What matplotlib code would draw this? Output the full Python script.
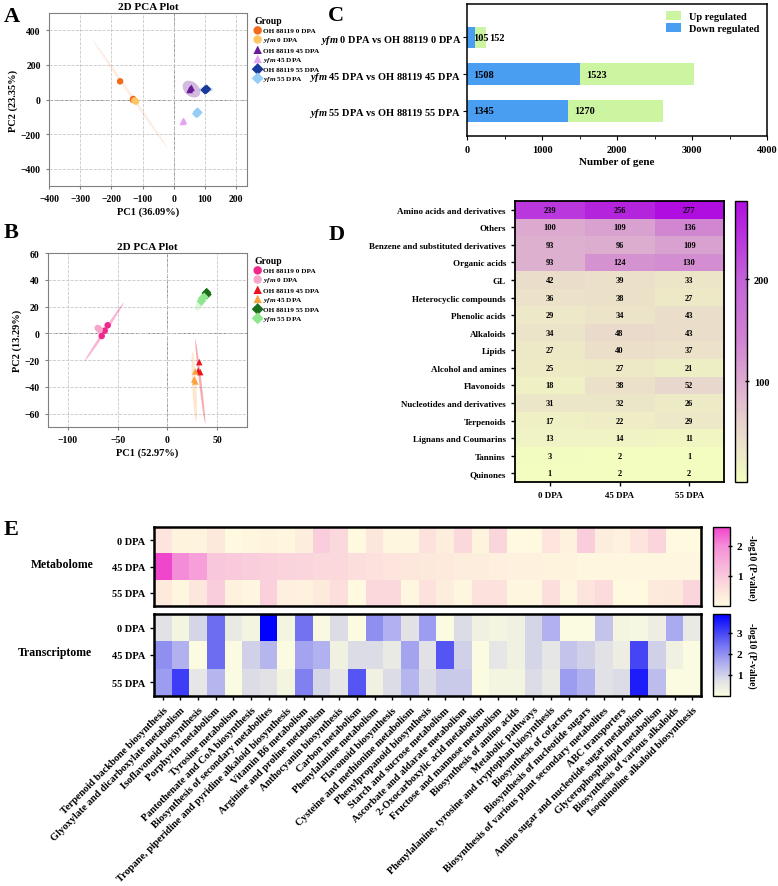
import numpy as np
import matplotlib.pyplot as plt
from matplotlib.patches import Ellipse, Patch
from matplotlib.colors import LinearSegmentedColormap, Normalize

plt.rcParams['font.family'] = ['Liberation Serif', 'DejaVu Serif']
plt.rcParams['font.weight'] = 'bold'
plt.rcParams['axes.labelweight'] = 'bold'
plt.rcParams['axes.titleweight'] = 'bold'
plt.rcParams['mathtext.fontset'] = 'custom'
plt.rcParams['mathtext.it'] = 'Liberation Serif:italic:bold'
plt.rcParams['mathtext.rm'] = 'Liberation Serif:bold'
plt.rcParams['mathtext.bf'] = 'Liberation Serif:bold'

# ---------------- data ----------------
groups = ['OH 88119 0 DPA', r'$\mathit{yfm}$ 0 DPA', 'OH 88119 45 DPA',
          r'$\mathit{yfm}$ 45 DPA', 'OH 88119 55 DPA', r'$\mathit{yfm}$ 55 DPA']
markers = ['o', 'o', '^', '^', 'D', 'D']

# panel A  (PC1 36.09 %, PC2 23.35 %)
a_x = [[-172, -130, -131], [-121, -126, -124], [53, 51, 57],
       [32, 29, 31], [103, 106, 100], [76, 73, 78]]
a_y = [[105, 3, -2], [-12, -6, -9], [62, 55, 68],
       [-122, -130, -127], [57, 60, 55], [-72, -82, -76]]
a_ell = [(-140, 32, 670, 10, -69), (-124, -9, 22, 30, 0), (57, 60, 52, 100, 15),
         (31, -126, 18, 28, 30), (104, 57, 45, 35, 0), (76, -77, 25, 45, 0)]
a_colors = ['#f26b1d', '#fdc663', '#6a1b9a', '#e3a6f2', '#173a9c', '#96cdf5']
a_ell_alpha = [0.12, 0.25, 0.3, 0.2, 0.15, 0.25]

# panel B  (PC1 52.97 %, PC2 13.29 %)
b_x = [[-60, -66, -63], [-69, -68, -70], [32, 33, 31],
       [28, 27, 28], [39, 40, 39.5], [35, 34, 37]]
b_y = [[6, -2, 2], [3.5, 2.5, 4], [-21.5, -29, -28],
       [-28.5, -34.5, -36], [30, 29, 30.5], [26, 24, 27]]
b_ell = [(-63.5, 1, 59, 2.5, 48), (-69, 3, 7, 6, 0), (33, -36, 64, 2.5, -81),
         (27, -40, 52, 4, -86), (39.5, 30, 5, 7, 0), (35, 25, 20, 7, 50)]
b_colors = ['#f0288c', '#f7a6cc', '#e8141e', '#f9a23f', '#1b6e1b', '#8fe68f']
b_ell_alpha = [0.35, 0.3, 0.35, 0.25, 0.3, 0.3]

# panel C
c_labels = [r'$\mathit{yfm}$ 0 DPA vs OH 88119 0 DPA',
            r'$\mathit{yfm}$ 45 DPA vs OH 88119 45 DPA',
            r'$\mathit{yfm}$ 55 DPA vs OH 88119 55 DPA']
c_down = [105, 1508, 1345]
c_up = [152, 1523, 1270]

# panel D
d_classes = ['Amino acids and derivatives', 'Others', 'Benzene and substituted derivatives',
             'Organic acids', 'GL', 'Heterocyclic compounds', 'Phenolic acids', 'Alkaloids',
             'Lipids', 'Alcohol and amines', 'Flavonoids', 'Nucleotides and derivatives',
             'Terpenoids', 'Lignans and Coumarins', 'Tannins', 'Quinones']
d_stages = ['0 DPA', '45 DPA', '55 DPA']
d_0 = [239, 100, 93, 93, 42, 36, 29, 34, 27, 25, 18, 31, 17, 13, 3, 1]
d_45 = [256, 109, 96, 124, 39, 38, 34, 48, 40, 27, 38, 32, 22, 14, 2, 2]
d_55 = [277, 136, 109, 130, 33, 27, 43, 43, 37, 21, 52, 26, 29, 11, 1, 2]

# panel E
pathways = ['Terpenoid backbone biosynthesis', 'Glyoxylate and dicarboxylate metabolism',
            'Isoflavonoid biosynthesis', 'Porphyrin metabolism', 'Tyrosine metabolism',
            'Pantothenate and CoA biosynthesis', 'Biosynthesis of secondary metabolites',
            'Tropane, piperidine and pyridine alkaloid biosynthesis', 'Vitamin B6 metabolism',
            'Arginine and proline metabolism', 'Anthocyanin biosynthesis', 'Carbon metabolism',
            'Phenylalanine metabolism', 'Flavonoid biosynthesis',
            'Cysteine and methionine metabolism', 'Phenylpropanoid biosynthesis',
            'Starch and sucrose metabolism', 'Ascorbate and aldarate metabolism',
            '2-Oxocarboxylic acid metabolism', 'Fructose and mannose metabolism',
            'Biosynthesis of amino acids', 'Metabolic pathways',
            'Phenylalanine, tyrosine and tryptophan biosynthesis', 'Biosynthesis of cofactors',
            'Biosynthesis of nucleotide sugars',
            'Biosynthesis of various plant secondary metabolites', 'ABC transporters',
            'Amino sugar and nucleotide sugar metabolism', 'Glycerophospholipid metabolism',
            'Biosynthesis of various alkaloids', 'Isoquinoline alkaloid biosynthesis']
e_rows = ['0 DPA', '45 DPA', '55 DPA']
met_0 = [0.5, 0.15, 0.15, 0.4, 0.05, 0.1, 0.15, 0.1, 0.3, 0.9, 0.7, 0.05, 0.45, 0.1, 0.1, 0.55,
         0.3, 0.7, 0.15, 0.75, 0.05, 0.05, 0.5, 0.2, 0.9, 0.3, 0.2, 0.5, 0.75, 0.05, 0.05]
met_45 = [2.6, 2.0, 1.7, 1.0, 0.95, 0.9, 0.85, 0.8, 0.75, 0.7, 0.7, 0.6, 0.55, 0.5, 0.45, 0.4,
          0.35, 0.3, 0.3, 0.25, 0.2, 0.2, 0.15, 0.15, 0.1, 0.1, 0.1, 0.1, 0.1, 0.1, 0.1]
met_55 = [0.35, 0.1, 0.45, 0.9, 0.2, 0.1, 0.85, 0.25, 0.2, 0.35, 0.6, 0.05, 0.7, 0.7, 0.1, 0.55,
          0.3, 0.1, 0.55, 0.55, 0.1, 0.1, 0.6, 0.1, 0.5, 0.65, 0.05, 0.05, 0.35, 0.4, 0.75]
tr_0 = [0.7, 0.2, 0.9, 2.5, 0.5, 0.2, 3.85, 0.2, 2.4, 0.1, 0.8, 0.05, 2.0, 1.5, 0.7, 1.8,
        0.05, 0.8, 0.3, 0.2, 0.3, 0.9, 1.5, 0.05, 0.05, 1.2, 0.2, 0.15, 0.4, 1.6, 0.5]
tr_45 = [2.0, 1.5, 0.05, 2.5, 0.05, 1.0, 1.4, 0.05, 1.7, 1.5, 0.3, 0.8, 0.8, 0.5, 1.7, 0.7,
         2.8, 1.0, 0.05, 0.6, 0.3, 0.9, 0.6, 1.2, 1.0, 0.7, 0.4, 3.0, 1.0, 0.3, 0.05]
tr_55 = [1.8, 3.1, 0.6, 1.4, 0.05, 0.8, 0.7, 0.2, 2.2, 0.9, 0.6, 2.8, 0.3, 0.8, 1.4, 0.8,
         1.1, 1.1, 0.05, 0.2, 0.2, 0.8, 0.5, 1.8, 1.5, 0.7, 0.8, 3.5, 1.3, 0.05, 0.05]

# ---------------- layout ----------------
W, H = 778, 887
fig = plt.figure(figsize=(W / 100, H / 100), dpi=100)


def rect(l, t, r, b):
    return [l / W, 1 - b / H, (r - l) / W, (b - t) / H]


def letter(x, y, s):
    fig.text(x / W, 1 - y / H, s, fontsize=16, fontweight='bold', va='center', ha='left')


def pca_panel(ax, xs, ys, ells, cols, alphas, xlim, ylim, xt, yt, xlab, ylab, leg_y):
    for i in range(len(groups)):
        cx, cy, w, h, ang = ells[i]
        ax.add_patch(Ellipse((cx, cy), w, h, angle=ang, facecolor=cols[i],
                             alpha=alphas[i], edgecolor='none', zorder=1))
    for i in range(len(groups)):
        ax.scatter(xs[i], ys[i], marker=markers[i], s=22, color=cols[i],
                   edgecolor='none', zorder=3, label=groups[i])
    ax.set_xlim(xlim)
    ax.set_ylim(ylim)
    ax.set_xticks(xt)
    ax.set_yticks(yt)
    ax.grid(True, ls='--', color='#c8c8c8', lw=0.6)
    ax.axhline(0, ls='--', color='#888888', lw=0.7, zorder=0)
    ax.axvline(0, ls='--', color='#888888', lw=0.7, zorder=0)
    ax.set_axisbelow(True)
    for s in ax.spines.values():
        s.set_color('#808080')
    ax.tick_params(labelsize=7, length=2.5, color='#808080')
    ax.set_xlabel(xlab, fontsize=7.5, labelpad=2)
    ax.set_ylabel(ylab, fontsize=7.5, labelpad=2)
    ax.set_title('2D PCA Plot', fontsize=8, pad=3)
    leg = ax.legend(loc='upper left', bbox_to_anchor=(249 / W, 1 - leg_y / H),
                    bbox_transform=fig.transFigure, frameon=False, title='Group',
                    fontsize=5.2, title_fontsize=7, handletextpad=0.2, labelspacing=0.3,
                    handlelength=1.0, markerscale=1.3, borderpad=0.2)
    leg._legend_box.align = 'left'


axA = fig.add_axes(rect(49, 14, 247, 187))
pca_panel(axA, a_x, a_y, a_ell, a_colors, a_ell_alpha, (-400, 235), (-500, 500),
          np.arange(-400, 201, 100), np.arange(-400, 401, 200),
          'PC1 (36.09%)', 'PC2 (23.35%)', 12)
letter(4, 17, 'A')

axB = fig.add_axes(rect(48, 254, 247, 428))
pca_panel(axB, b_x, b_y, b_ell, b_colors, b_ell_alpha, (-120, 80), (-70, 60),
          [-100, -50, 0, 50], np.arange(-60, 61, 20),
          'PC1 (52.97%)', 'PC2 (13.29%)', 252)
letter(4, 233, 'B')

# panel C
axC = fig.add_axes(rect(467, 5, 767, 137))
yc = np.arange(len(c_labels))
axC.barh(yc, c_down, height=0.59, color='#4a9ef2', label='Down regulated')
axC.barh(yc, c_up, left=c_down, height=0.59, color='#cbf5a0', label='Up regulated')
for i in range(len(c_labels)):
    axC.text(80, yc[i], str(c_down[i]), va='center', ha='left', fontsize=7.5)
    axC.text(max(c_down[i] + 80, 300), yc[i], str(c_up[i]), va='center', ha='left', fontsize=7.5)
axC.set_ylim(2.68, -0.91)
axC.set_xlim(0, 4000)
axC.set_yticks(yc)
axC.set_yticklabels(c_labels, fontsize=6.4)
axC.set_xticks(np.arange(0, 4001, 1000))
axC.set_xticks(np.arange(500, 4000, 1000), minor=True)
axC.tick_params(labelsize=7.5, length=3)
axC.tick_params(axis='y', pad=1)
axC.tick_params(which='minor', length=2)
axC.set_xlabel('Number of gene', fontsize=8, labelpad=2)
for s in axC.spines.values():
    s.set_linewidth(1.1)
h, l = axC.get_legend_handles_labels()
axC.legend(h[::-1], l[::-1], loc='upper right', frameon=False, fontsize=7.5,
           handlelength=1.4, handleheight=0.9, labelspacing=0.2, borderaxespad=0.3)
letter(328, 16, 'C')

# panel D
d_mat = np.array([d_0, d_45, d_55]).T
d_cmap = LinearSegmentedColormap.from_list('d', [
    (0.0, '#f3fdc0'), (0.105, '#ede7c8'), (0.196, '#e8d5cd'), (0.359, '#dcaad0'),
    (0.504, '#d083d2'), (0.721, '#c462d8'), (1.0, '#b00ee0')])
axD = fig.add_axes(rect(515, 202, 724, 483))
imD = axD.imshow(d_mat, cmap=d_cmap, norm=Normalize(1, 277), aspect='auto')
for r in range(d_mat.shape[0]):
    for c in range(d_mat.shape[1]):
        axD.text(c, r, str(d_mat[r, c]), ha='center', va='center', fontsize=6)
axD.set_xticks(range(3))
axD.set_xticklabels(d_stages, fontsize=6.5)
axD.set_yticks(range(len(d_classes)))
axD.set_yticklabels(d_classes, fontsize=6.5)
axD.tick_params(length=3, width=1)
for s in axD.spines.values():
    s.set_linewidth(1.3)
caxD = fig.add_axes(rect(735, 202, 747, 483))
cbD = fig.colorbar(imD, cax=caxD, ticks=[100, 200])
cbD.ax.tick_params(labelsize=7.5, length=3, width=1, direction='inout')
cbD.outline.set_linewidth(1)
letter(329, 235, 'D')

# panel E
met_cmap = LinearSegmentedColormap.from_list('m', [
    (0.0, '#fffbe0'), (0.19, '#fde4dc'), (0.38, '#f9c8dc'), (0.76, '#f58ed8'), (1.0, '#f044cc')])
tr_cmap = LinearSegmentedColormap.from_list('t', [
    (0.0, '#fcfde0'), (0.18, '#e2e2e6'), (0.39, '#b0b0f0'), (0.64, '#6e6ef2'), (1.0, '#0000ff')])

met = np.array([met_0, met_45, met_55])
tr = np.array([tr_0, tr_45, tr_55])

axM = fig.add_axes(rect(154, 528, 701, 607))
imM = axM.imshow(met, cmap=met_cmap, norm=Normalize(0, 2.63), aspect='auto')
axM.set_xticks([])
axM.set_yticks(range(3))
axM.set_yticklabels(e_rows, fontsize=7.5)
axM.tick_params(length=3, width=1)
for s in axM.spines.values():
    s.set_linewidth(1.8)

axT = fig.add_axes(rect(154, 615, 701, 697))
imT = axT.imshow(tr, cmap=tr_cmap, norm=Normalize(0, 3.88), aspect='auto')
axT.set_yticks(range(3))
axT.set_yticklabels(e_rows, fontsize=7.5)
axT.set_xticks(range(len(pathways)))
axT.set_xticklabels(pathways, rotation=45, ha='right', rotation_mode='anchor', fontsize=7.5)
axT.tick_params(length=3, width=1)
for s in axT.spines.values():
    s.set_linewidth(1.8)

caxM = fig.add_axes(rect(713, 528, 730, 607))
cbM = fig.colorbar(imM, cax=caxM, ticks=[1, 2])
caxT = fig.add_axes(rect(713, 615, 730, 697))
cbT = fig.colorbar(imT, cax=caxT, ticks=[1, 2, 3])
for cb in (cbM, cbT):
    cb.ax.tick_params(labelsize=8, length=3, width=1, direction='inout')
    cb.outline.set_linewidth(1)
    cb.set_label('-log10 (P-value)', rotation=270, fontsize=7, labelpad=10)

fig.text(62 / W, 1 - 565 / H, 'Metabolome', fontsize=8.5, ha='center', va='center')
fig.text(55 / W, 1 - 653 / H, 'Transcriptome', fontsize=8.5, ha='center', va='center')
letter(4, 530, 'E')

fig.savefig('out.png', dpi=100)
